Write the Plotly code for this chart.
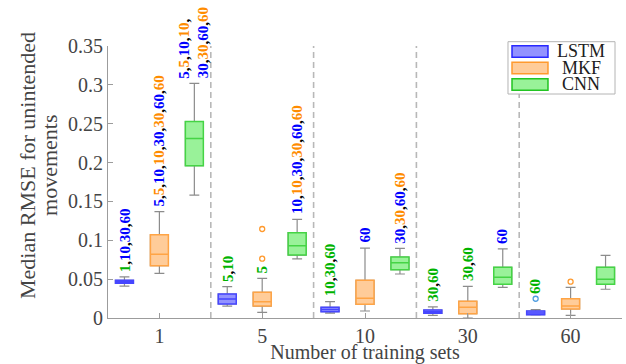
import plotly.graph_objects as go

# ---- data -------------------------------------------------------------
training_sets = ["1", "5", "10", "30", "60"]
models = ["LSTM", "MKF", "CNN"]

lstm_q1 = [0.0447, 0.0180, 0.0081, 0.0060, 0.0042]
lstm_median = [0.0465, 0.0245, 0.0110, 0.0080, 0.0064]
lstm_q3 = [0.0485, 0.0309, 0.0138, 0.0103, 0.0090]
lstm_low = [0.0410, 0.0154, 0.0064, 0.0035, 0.0039]
lstm_high = [0.0530, 0.0403, 0.0210, 0.0142, 0.0107]
lstm_outliers = [[], [], [], [], [0.0248]]

mkf_q1 = [0.0673, 0.0154, 0.0176, 0.0055, 0.0116]
mkf_median = [0.0820, 0.0210, 0.0254, 0.0138, 0.0154]
mkf_q3 = [0.1070, 0.0330, 0.0485, 0.0215, 0.0248]
mkf_low = [0.0575, 0.0073, 0.0090, 0.0000, 0.0035]
mkf_high = [0.1370, 0.0510, 0.0900, 0.0408, 0.0395]
mkf_outliers = [[], [0.0763, 0.1145], [], [], [0.0467]]

cnn_q1 = [0.1960, 0.0810, 0.0622, 0.0434, 0.0434]
cnn_median = [0.2310, 0.0930, 0.0712, 0.0524, 0.0500]
cnn_q3 = [0.2527, 0.1098, 0.0785, 0.0652, 0.0652]
cnn_low = [0.1580, 0.0760, 0.0566, 0.0395, 0.0370]
cnn_high = [0.3020, 0.1270, 0.0897, 0.0890, 0.0807]
cnn_outliers = [[], [], [], [], []]

# significance marks: colour code (b=LSTM, o=MKF, g=CNN) + training-set size,
# "|" starts a new column of text
lstm_sig = ["g1,b10,b30,b60", "g5,g10", "g10,g30,g60", "g30,g60", "g60"]
mkf_sig = ["b5,o5,b10,o10,b30,o30,b60,o60", "g5", "b60", "g30,g60", ""]
cnn_sig = ["b5,o5,b10,o10,|b30,o30,b60,o60", "b10,o10,b30,o30,b60,o60",
           "b30,o30,b60,o60", "b60", ""]

y_ticks = [0, 0.05, 0.1, 0.15, 0.2, 0.25, 0.3, 0.35]
y_tick_labels = ["0", "0.05", "0.1", "0.15", "0.2", "0.25", "0.3", "0.35"]
y_title_lines = ["Median RMSE for unintended", "movements"]

# ---- styling ----------------------------------------------------------
FONT = "Liberation Serif"
TEXT = "#444444"
AXIS = "#9c9c9c"
fills = {"LSTM": "#9292ff", "MKF": "#ffcc99", "CNN": "#99f299"}
edges = {"LSTM": "#4646ff", "MKF": "#ffa445", "CNN": "#45d445"}
legend_edges = {"LSTM": "#2828ff", "MKF": "#ff9a2e", "CNN": "#22c422"}
outlier_col = {"LSTM": "#4f9de0", "MKF": "#ff9a2e", "CNN": "#22c422"}
sig_col = {"b": "#0000ff", "o": "#ff8c00", "g": "#00b300"}
offsets = {"LSTM": -0.34, "MKF": 0.0, "CNN": 0.34}
BOX_W = 0.175

stats = {
    "LSTM": (lstm_q1, lstm_median, lstm_q3, lstm_low, lstm_high, lstm_outliers, lstm_sig),
    "MKF": (mkf_q1, mkf_median, mkf_q3, mkf_low, mkf_high, mkf_outliers, mkf_sig),
    "CNN": (cnn_q1, cnn_median, cnn_q3, cnn_low, cnn_high, cnn_outliers, cnn_sig),
}

fig = go.Figure()
annotations = []
positions = list(range(1, len(training_sets) + 1))


def sig_html(line):
    comma = "<span style='color:#000000'>,</span>"
    parts = [f"<span style='color:{sig_col[t[0]]}'>{t[1:]}</span>"
             for t in line.split(",") if t]
    html = comma.join(parts)
    if line.endswith(","):
        html += comma
    return f"<b>{html}</b>"


for m in models:
    q1, med, q3, lo, hi, outl, sig = stats[m]
    xs = [p + offsets[m] for p in positions]
    # whiskers in grey
    fig.add_trace(go.Box(
        x=xs, q1=q1, median=med, q3=q3, lowerfence=lo, upperfence=hi,
        width=BOX_W, whiskerwidth=0.55, fillcolor=fills[m],
        line=dict(color="#8c8c8c", width=1.2), boxpoints=False,
        showlegend=False, hoverinfo="skip"))
    # coloured box body and median on top
    fig.add_trace(go.Box(
        x=xs, q1=q1, median=med, q3=q3, lowerfence=q1, upperfence=q3,
        width=BOX_W, whiskerwidth=0, fillcolor=fills[m],
        line=dict(color=edges[m], width=1.5), boxpoints=False,
        showlegend=False, name=m))
    ox, oy = [], []
    for x, vals in zip(xs, outl):
        for v in vals:
            ox.append(x)
            oy.append(v)
    if ox:
        fig.add_trace(go.Scatter(
            x=ox, y=oy, mode="markers", showlegend=False,
            marker=dict(symbol="circle-open", size=5, color=outlier_col[m],
                        line=dict(width=1.3))))
    # significance labels above each box
    for x, h, vals, text in zip(xs, hi, outl, sig):
        if not text:
            continue
        base = max([h] + [v for v in vals if v - h < 0.02])
        lines = text.split("|")
        n = len(lines)
        for k, line in enumerate(lines):
            annotations.append(dict(
                x=x, y=base, xref="x", yref="y", text=sig_html(line),
                textangle=-90, showarrow=False, xanchor="center", yanchor="bottom",
                yshift=3, xshift=(k - (n - 1) / 2) * 18 - (n - 1),
                font=dict(family=FONT, size=15)))

# dashed separators between training-set groups
shapes = []
for p in positions[:-1]:
    shapes.append(dict(type="line", xref="x", yref="y", x0=p + 0.5, x1=p + 0.5,
                       y0=0, y1=y_ticks[-1],
                       line=dict(color="#b8b8b8", width=1.6, dash="6px,4px")))

# legend box
lx0, lx1, ly0, ly1 = 0.7782, 0.9864, 0.8235, 1.0158
shapes.append(dict(type="rect", xref="paper", yref="paper", x0=lx0, x1=lx1,
                   y0=ly0, y1=ly1, line=dict(color="#b4b4b4", width=1),
                   fillcolor="white", layer="above"))
row_y = [0.9798, 0.9191, 0.8585]
for m, ry in zip(models, row_y):
    shapes.append(dict(type="rect", xref="paper", yref="paper",
                       x0=0.786, x1=0.856, y0=ry - 0.021, y1=ry + 0.021,
                       fillcolor=fills[m], line=dict(color=legend_edges[m], width=1.5),
                       layer="above"))
    annotations.append(dict(x=0.9205, y=ry, xref="paper", yref="paper", text=m,
                            showarrow=False, xanchor="center", yanchor="middle",
                            font=dict(family=FONT, size=18, color="#202020")))

# two-line y-axis title
for line, px in zip(y_title_lines, [-0.1556, -0.1128]):
    annotations.append(dict(x=px, y=0.559, xref="paper", yref="paper", text=line,
                            textangle=-90, showarrow=False, xanchor="center",
                            yanchor="middle",
                            font=dict(family=FONT, size=22, color=TEXT)))

fig.update_layout(
    width=626, height=364,
    margin=dict(l=108, r=4, t=46, b=46),
    paper_bgcolor="white", plot_bgcolor="white",
    boxmode="overlay",
    showlegend=False,
    font=dict(family=FONT, size=19, color=TEXT),
    shapes=shapes,
    annotations=annotations,
)
fig.update_xaxes(
    range=[0.5, 5.5], tickvals=positions, ticktext=training_sets,
    showline=True, linecolor=AXIS, linewidth=1, ticks="inside", ticklen=5,
    tickcolor=AXIS, showgrid=False, zeroline=False,
    tickfont=dict(family=FONT, size=20, color=TEXT),
    title=dict(text="Number of training sets", standoff=0,
               font=dict(family=FONT, size=20, color=TEXT)))
fig.update_yaxes(
    range=[0, 0.35], tickvals=y_ticks, ticktext=y_tick_labels,
    showline=True, linecolor=AXIS, linewidth=1, ticks="inside", ticklen=5,
    tickcolor=AXIS, showgrid=False, zeroline=False,
    tickfont=dict(family=FONT, size=20, color=TEXT))

fig.write_html("out.html")
